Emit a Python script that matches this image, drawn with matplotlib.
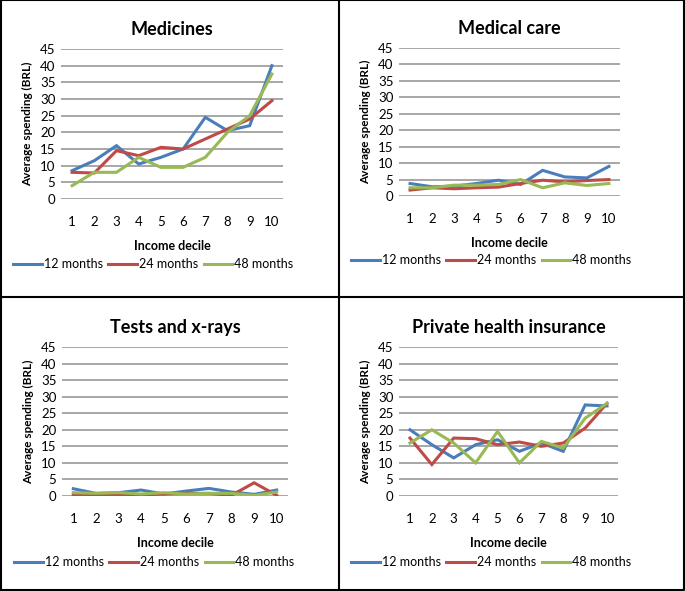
import numpy as np
import matplotlib.pyplot as plt
from matplotlib.lines import Line2D

plt.rcParams['font.family'] = ['Lato', 'DejaVu Sans']

# Datos
deciles = np.arange(1, 11)
series = ['12 months', '24 months', '48 months']

med_12 = [8.5, 11.5, 16, 10.5, 12.5, 15, 24.5, 20.5, 22, 40]
med_24 = [8, 7.8, 14.5, 13, 15.5, 15, 18, 21, 24, 29.5]
med_48 = [4, 8, 8, 12.5, 9.5, 9.5, 12.5, 20, 25, 37.5]

care_12 = [3.8, 2.8, 3, 3.8, 4.8, 3.5, 7.8, 5.8, 5.5, 9]
care_24 = [1.8, 2.5, 2.2, 2.5, 2.7, 3.8, 4.8, 4.3, 4.7, 5]
care_48 = [2.5, 2.5, 3.3, 3.3, 3.5, 5, 2.5, 4, 3.2, 3.8]

test_12 = [2.2, 0.8, 1, 1.8, 0.6, 1.5, 2.3, 1.2, 0.5, 1.8]
test_24 = [0.3, 0.2, 0.3, 0.3, 0.6, 0.8, 0.8, 0.2, 4.0, 0.2]
test_48 = [1, 0.8, 1, 0.6, 1, 0.6, 0.8, 0.8, 0.2, 1.2]

ins_12 = [20, 15.5, 11.5, 15.5, 17, 13.5, 16, 13.5, 27.5, 27.2]
ins_24 = [17.5, 9.5, 17.5, 17.3, 15.5, 16.3, 15, 16, 20.5, 28]
ins_48 = [16, 20, 16, 10, 19.5, 10, 16.5, 14.5, 23.5, 28]

titles = ['Medicines', 'Medical care', 'Tests and x-rays', 'Private health insurance']
data = [(med_12, med_24, med_48), (care_12, care_24, care_48),
        (test_12, test_24, test_48), (ins_12, ins_24, ins_48)]

azul = '#4a7ebb'
rojo = '#be4b48'
verde = '#98b954'
colores = [azul, rojo, verde]

W, H = 685, 591
fig = plt.figure(figsize=(W/100, H/100), dpi=100)

# areas de grafico en pixeles: x0, x1, y(45), y(0)
areas = [(61, 283, 49, 199), (399, 620, 48, 196),
         (62, 288, 347, 496), (399, 618, 347, 496)]
# posicion de la leyenda (pixeles): x izquierda, y centro
leyendas = [(13, 264), (351, 260), (14, 562), (351, 562)]

for k in range(4):
    x0, x1, ytop, ybot = areas[k]
    ax = fig.add_axes([x0/W, 1 - ybot/H, (x1-x0)/W, (ybot-ytop)/H])
    for i in range(3):
        ax.plot(deciles, data[k][i], "-", color=colores[i], linewidth=2.2,
                solid_joinstyle='miter', zorder=3)
    ax.set_xlim(0.5, 10.5)
    ax.set_ylim(0, 45)
    ax.set_yticks(np.arange(0, 50, 5))
    ax.set_xticks(deciles)
    ax.grid(axis='y', color='#a0a0a0', linewidth=1.3)
    for s in ax.spines.values():
        s.set_visible(False)
    ax.tick_params(length=0, labelsize=9.5, pad=4)
    ax.tick_params(axis='x', pad=12)
    ax.set_axisbelow(True)
    ax.set_ylabel("Average spending (BRL)", fontsize=8.5, fontweight='bold', labelpad=5)
    ax.set_xlabel("Income decile", fontsize=9, fontweight='bold', labelpad=9)
    ax.set_title(titles[k], fontsize=13, fontweight='bold', pad=10)
    handles = [Line2D([], [], color=c, linewidth=2.2) for c in colores]
    lx, ly = leyendas[k]
    fig.legend(handles, series, loc='center left',
               bbox_to_anchor=(lx/W, 1 - ly/H), borderaxespad=0, borderpad=0,
               ncol=3, fontsize=9, frameon=False, handlelength=2.3,
               handletextpad=0.15, columnspacing=0.45)

# bordes de los paneles
lw = 1.5
fig.add_artist(Line2D([339/W, 339/W], [0, 1], color='black', linewidth=lw))
fig.add_artist(Line2D([0, 1], [1 - 297/H, 1 - 297/H], color='black', linewidth=lw))
fig.add_artist(Line2D([0.5/W, 0.5/W, 1 - 1.5/W, 1 - 1.5/W, 0.5/W],
                      [1.5/H, 1, 1, 1.5/H, 1.5/H], color='black', linewidth=lw))

fig.savefig("out.png", dpi=100)
